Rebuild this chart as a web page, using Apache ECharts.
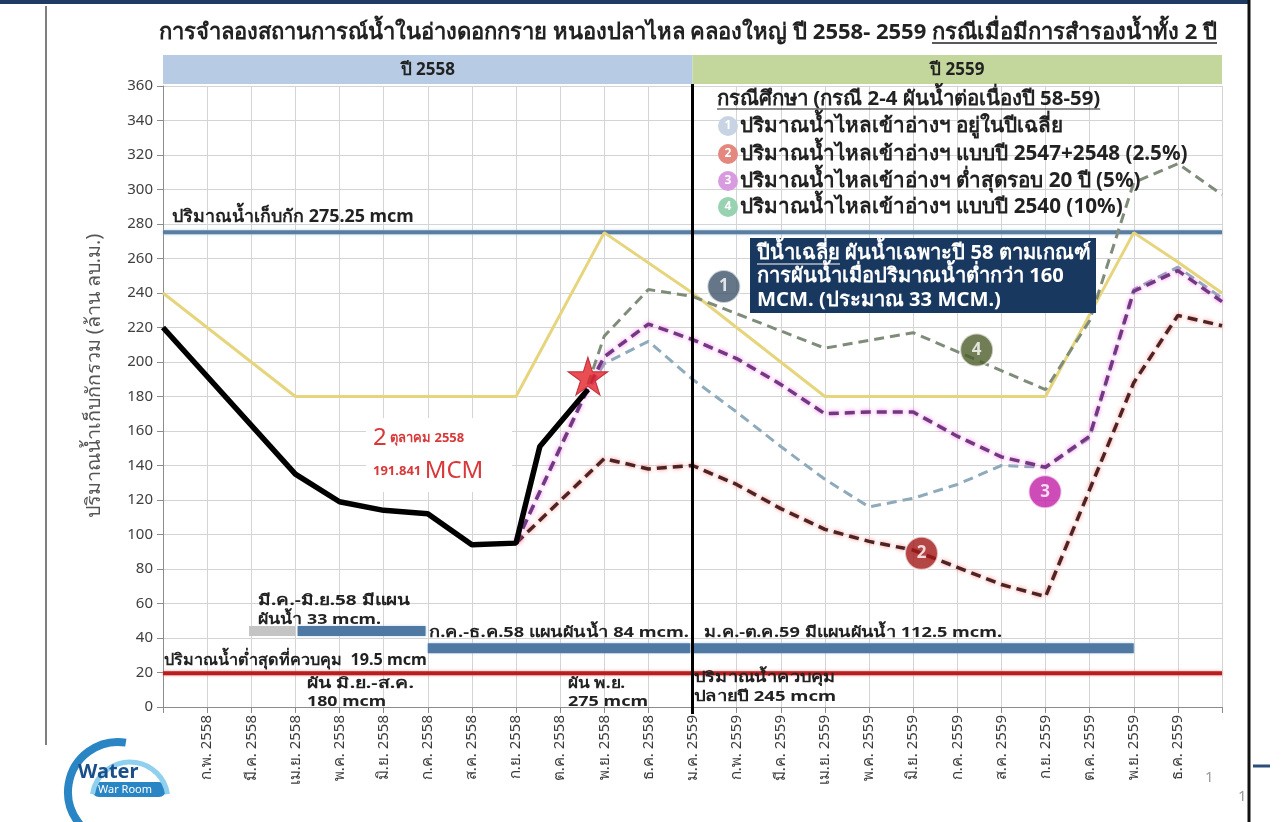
<!DOCTYPE html>
<html><head><meta charset="utf-8">
<script src="https://cdn.jsdelivr.net/npm/echarts@6/dist/echarts.min.js"></script>
<style>html,body{margin:0;padding:0;background:#fff}#c{width:1285px;height:822px}</style>
</head><body><div id="c"></div>
<script>
// ---------- DATA ----------
const monthLabels = ['ม.ค. 2558','ก.พ. 2558','มี.ค. 2558','เม.ย. 2558','พ.ค. 2558','มิ.ย. 2558','ก.ค. 2558','ส.ค. 2558','ก.ย. 2558','ต.ค. 2558','พ.ย. 2558','ธ.ค. 2558','ม.ค. 2559','ก.พ. 2559','มี.ค. 2559','เม.ย. 2559','พ.ค. 2559','มิ.ย. 2559','ก.ค. 2559','ส.ค. 2559','ก.ย. 2559','ต.ค. 2559','พ.ย. 2559','ธ.ค. 2559','ม.ค. 2560'];
const actualX = [0, 3, 4, 5, 6, 7, 8, 8.54, 9.63];
const actualY = [220, 135, 119, 114, 112, 94, 95, 151, 184];
const ruleX = [0, 3, 8, 10, 12, 15, 20, 22, 23, 24];
const ruleY = [240, 180, 180, 275, 240, 180, 180, 275, 258, 240];
const case1X = [8, 9.63, 10, 11, 12, 13, 14, 15, 16, 17, 18, 19, 20, 21, 22, 23, 24];
const case1Y = [95, 184, 199, 212, 190, 171, 151, 132, 116, 121, 129, 140, 139, 156, 242, 255, 237];
const case2X = [8, 10, 11, 12, 13, 14, 15, 16, 17, 18, 19, 20, 22, 23, 24];
const case2Y = [95, 144, 138, 140, 129, 115, 103, 96, 91, 81, 71, 64, 188, 227, 221];
const case3X = [8, 9.63, 10, 11, 12, 13, 14, 15, 16, 17, 18, 19, 20, 21, 22, 23, 24];
const case3Y = [95, 185, 203, 222, 213, 202, 187, 170, 171, 171, 157, 145, 139, 157, 241, 253, 235];
const case4X = [9.63, 10, 11, 12, 15, 17, 20, 21, 22, 23, 24];
const case4Y = [187, 215, 242, 238, 208, 217, 184, 224, 304, 315, 297];
const storageLevel = 275.25;
const minLevel = 19.5;
const planStart = [1.95, 3.05, 6.0, 12.0];
const planEnd = [3.0, 5.95, 11.95, 22.0];
const planLevel = [44, 44, 34, 34];
const starPoint = [9.63, 191.841];
const caseMarkX = [12.71, 17.19, 19.99, 18.44];
const caseMarkY = [243.7, 89.1, 124.8, 207];

// ---------- STYLE ----------
const FONT = '"Noto Sans", "Liberation Sans", "DejaVu Sans", sans-serif';
const caseColors = ['#8eaabb', '#4d2424', '#6f3a80', '#7f8c7a'];
const caseGlow = ['rgba(0,0,0,0)', 'rgba(255,110,110,0.8)', 'rgba(255,90,230,0.8)', 'rgba(0,0,0,0)'];
const markColors = ['#3e546a', '#a31818', '#c21fa6', '#4d5e2a'];
const legendColors = ['#c8d3e3', '#e4877e', '#d99be0', '#97d3b0'];

const pairs = (xs, ys) => xs.map((x, i) => [x, ys[i]]);
const mctx = document.createElement('canvas').getContext('2d');
function textW(t, size, weight){ mctx.font = (weight||'normal') + ' ' + size + 'px ' + FONT; return mctx.measureText(t).width; }
function fit(t, target, weight){ return Math.min(22, 16 * target / textW(t, 16, weight)); }

const chart = echarts.init(document.getElementById('c'));
const series = [];
planStart.forEach((s, i) => {
  series.push({type:'line', data:[[s, planLevel[i]], [planEnd[i], planLevel[i]]], symbol:'none', silent:true, z:2,
    lineStyle:{color: i === 0 ? '#c4c4c4' : '#4f78a3', width:10, cap:'butt', shadowColor: i===0?'rgba(0,0,0,0)':'rgba(150,200,240,0.9)', shadowBlur:3}});
});
series.push({type:'line', data:[[0, storageLevel],[24, storageLevel]], symbol:'none', silent:true, z:3,
  lineStyle:{color:'#5a7ea0', width:4, shadowColor:'rgba(170,200,230,0.9)', shadowBlur:3}});
series.push({type:'line', data:[[0, minLevel],[24, minLevel]], symbol:'none', silent:true, z:3,
  lineStyle:{color:'#b51f22', width:4, shadowColor:'rgba(255,130,130,0.9)', shadowBlur:3}});
series.push({type:'line', data:pairs(ruleX, ruleY), symbol:'none', silent:true, z:4,
  lineStyle:{color:'#e6d57c', width:3}});
[[case1X, case1Y], [case2X, case2Y], [case3X, case3Y], [case4X, case4Y]].forEach((c, i) => {
  series.push({type:'line', data:pairs(c[0], c[1]), symbol:'none', silent:true, z:5,
    lineStyle:{color:caseColors[i], width: (i===1||i===2) ? 3.5 : 3, type:[10,6], shadowColor:caseGlow[i], shadowBlur:4}});
});
series.push({type:'line', data:pairs(actualX, actualY), symbol:'none', silent:true, z:6,
  lineStyle:{color:'#000', width:5.5}});
series.push({type:'scatter', data:[starPoint], z:8, silent:true,
  symbol:'path://M50,0 L61,35 L98,35 L68,57 L79,91 L50,70 L21,91 L32,57 L2,35 L39,35 Z', symbolSize:[40,38],
  itemStyle:{color:'#e3222b', borderColor:'#b31820', borderWidth:1}});
series.push({type:'scatter', z:9, silent:true, symbol:'circle', symbolSize:33,
  data: caseMarkX.map((x, i) => ({value:[x, caseMarkY[i]], itemStyle:{color:markColors[i], borderColor:'rgba(255,255,255,0.8)', borderWidth:2},
    label:{show:true, position:'inside', formatter:String(i+1), color:'#fff', fontSize:17, fontWeight:'bold', fontFamily:FONT}}))});

chart.setOption({
  animation:false, backgroundColor:'#fff',
  grid:{left:163, right:63, top:86, bottom:115, containLabel:false},
  xAxis:{type:'value', min:0, max:24, interval:1,
    axisLine:{lineStyle:{color:'#8c8c8c'}},
    axisTick:{show:true, length:6, lineStyle:{color:'#8c8c8c'}},
    splitLine:{show:true, lineStyle:{color:'#d4d4d4'}},
    axisLabel:{rotate:90, fontSize:15, color:'#3a3a3a', fontFamily:FONT, margin:8, showMinLabel:true, showMaxLabel:true,
      formatter:v => (v >= 1 && v <= 23) ? monthLabels[Math.round(v)] : ''}},
  yAxis:{type:'value', min:0, max:360, interval:20,
    axisLine:{show:true, lineStyle:{color:'#8c8c8c'}},
    axisTick:{show:true, length:6, lineStyle:{color:'#8c8c8c'}},
    splitLine:{lineStyle:{color:'#d4d4d4'}},
    axisLabel:{fontSize:15, color:'#404040', fontFamily:FONT, margin:10}},
  series
});

const px = (x, y) => chart.convertToPixel({gridIndex:0}, [x, y]);
const g = [];
function txt(t, x, y, size, opts){
  opts = opts || {};
  const sx = opts.w ? opts.w / textW(t, size, opts.weight) : 1;
  g.push({type:'text', x:x, y:y, z:100, rotation:opts.rot||0, scaleX:sx,
    style:{text:t, fontSize:size, fontWeight:opts.weight||'normal', fontFamily:FONT, fill:opts.fill||'#222',
      align:opts.align||'left', verticalAlign:'middle', rich:opts.rich}});
}
function line(x1, y1, x2, y2, color, w){
  g.push({type:'line', z:100, shape:{x1, y1, x2, y2}, style:{stroke:color, lineWidth:w}});
}
// frame
g.push({type:'rect', z:100, shape:{x:0, y:0, width:1250, height:4}, style:{fill:'#1f3b63'}});
line(1249, 0, 1249, 822, '#111', 3);
line(1253, 766, 1270, 766, '#2a4f7a', 3);
line(46, 6, 46, 745, '#555', 1.5);
txt('1', 1205, 778, 15, {fill:'#999'});
txt('1', 1238, 797, 15, {fill:'#999'});

// header bands
const p0 = px(0, 360), p12 = px(12, 360), p24 = px(24, 360);
g.push({type:'rect', z:90, shape:{x:p0[0], y:55, width:p12[0]-p0[0], height:29}, style:{fill:'#b7cbe4'}});
g.push({type:'rect', z:90, shape:{x:p12[0], y:55, width:p24[0]-p12[0], height:29}, style:{fill:'#c3d69b'}});
txt('ปี 2558', (p0[0]+p12[0])/2, 70, 17, {weight:'bold', align:'center'});
txt('ปี 2559', (p12[0]+p24[0])/2, 70, 17, {weight:'bold', align:'center'});
line(p12[0], 84, p12[0], 714, '#000', 3);

// title
const t1 = 'การจำลองสถานการณ์น้ำในอ่างดอกกราย หนองปลาไหล คลองใหญ่ ปี 2558- 2559 ';
const t2 = 'กรณีเมื่อมีการสำรองน้ำทั้ง 2 ปี';
const ts = fit(t1 + t2, 1080, 'bold');
const w1 = textW(t1, ts, 'bold'), w2 = textW(t2, ts, 'bold');
const tx = 688 - (w1 + w2) / 2;
txt(t1, tx, 33, ts, {weight:'bold'});
txt(t2, tx + w1, 33, ts, {weight:'bold'});
line(tx + w1, 43, tx + w1 + w2, 43, '#222', 1.5);

// storage / min labels
const sl = 'ปริมาณน้ำเก็บกัก 275.25 mcm';
txt(sl, 172, 217, fit(sl, 243, 'bold'), {weight:'bold'});
const ml = 'ปริมาณน้ำต่ำสุดที่ควบคุม  19.5 mcm';
txt(ml, 164, 660, fit(ml, 263, 'bold'), {weight:'bold'});

// legend
const lh = 'กรณีศึกษา (กรณี 2-4 ผันน้ำต่อเนื่องปี 58-59)';
const lhs = fit(lh, 389, 'bold');
txt(lh, 717, 99, lhs, {weight:'bold'});
line(717, 109, 717 + textW(lh, lhs, 'bold'), 109, '#222', 1.2);
const legendText = ['ปริมาณน้ำไหลเข้าอ่างฯ อยู่ในปีเฉลี่ย', 'ปริมาณน้ำไหลเข้าอ่างฯ แบบปี 2547+2548 (2.5%)', 'ปริมาณน้ำไหลเข้าอ่างฯ ต่ำสุดรอบ 20 ปี (5%)', 'ปริมาณน้ำไหลเข้าอ่างฯ แบบปี 2540 (10%)'];
const legendY = [126, 154, 181, 207];
const lfs = fit(legendText[1], 448, 'bold');
legendText.forEach((t, i) => {
  g.push({type:'circle', z:100, shape:{cx:728, cy:legendY[i], r:10}, style:{fill:legendColors[i]}});
  txt(String(i+1), 728, legendY[i], 12, {weight:'bold', fill:'#fff', align:'center'});
  txt(t, 740, legendY[i], lfs, {weight:'bold'});
});

// navy box
g.push({type:'rect', z:95, shape:{x:750, y:238, width:346, height:75}, style:{fill:'#19385f'}});
const nb = ['ปีน้ำเฉลี่ย ผันน้ำเฉพาะปี 58 ตามเกณฑ์', 'การผันน้ำเมื่อปริมาณน้ำต่ำกว่า 160', 'MCM. (ประมาณ 33 MCM.)'];
const nbs = fit(nb[0], 333, 'bold');
nb.forEach((t, i) => txt(t, 757, 253 + i * 23.5, nbs, {weight:'bold', fill:'#fff'}));
line(757, 264, 757 + textW('ปีน้ำเฉลี่ย', nbs, 'bold'), 264, '#fff', 1.2);

// date annotation
g.push({type:'rect', z:60, shape:{x:366, y:418, width:146, height:74}, style:{fill:'#fff'}});
txt('{a|2} {b|ตุลาคม 2558}', 373, 438, 13, {rich:{a:{fontSize:24, fill:'#d9383a', fontFamily:FONT}, b:{fontSize:13, fill:'#d9383a', fontWeight:'bold', fontFamily:FONT}}});
txt('{b|191.841 }{a|MCM}', 373, 471, 13, {rich:{a:{fontSize:24, fill:'#d9383a', fontFamily:FONT}, b:{fontSize:13, fill:'#d9383a', fontWeight:'bold', fontFamily:FONT}}});

// plan texts [text, x, y, target width]
const pt = [
  ['มี.ค.-มิ.ย.58 มีแผน', 258, 601, 152],
  ['ผันน้ำ 33 mcm.', 258, 620, 123],
  ['ก.ค.-ธ.ค.58 แผนผันน้ำ 84 mcm.', 429, 633, 260],
  ['ม.ค.-ต.ค.59 มีแผนผันน้ำ 112.5 mcm.', 704, 633, 298],
  ['ผัน มิ.ย.-ส.ค.', 307, 684, 107], ['180 mcm', 307, 702, 79],
  ['ผัน พ.ย.', 568, 684, 57], ['275 mcm', 568, 702, 80],
  ['ปริมาณน้ำควบคุม', 694, 678, 142], ['ปลายปี 245 mcm', 694, 697, 142]
];
pt.forEach(p => txt(p[0], p[1], p[2], 14.5, {weight:'bold', w:p[3]}));

// y axis title
const yt = 'ปริมาณน้ำเก็บกักรวม (ล้าน ลบ.ม.)';
txt(yt, 94, 376, fit(yt, 290, 'normal'), {rot:Math.PI/2, fill:'#555', align:'center'});

// logo
g.push({type:'arc', z:100, shape:{cx:118, cy:792, r:50, startAngle:Math.PI*0.55, endAngle:Math.PI*1.55}, style:{stroke:'#2a85c4', lineWidth:8, fill:null}});
g.push({type:'arc', z:100, shape:{cx:130, cy:800, r:38, startAngle:Math.PI*1.05, endAngle:Math.PI*1.95}, style:{stroke:'#8fd0ee', lineWidth:5, fill:null}});
txt('Water', 78, 772, 20, {weight:'bold', fill:'#1b4f8a'});
g.push({type:'rect', z:99, shape:{x:92, y:782, width:74, height:15, r:7}, style:{fill:'#2a85c4'}});
txt('War Room', 98, 790, 11, {fill:'#fff'});

chart.setOption({graphic:{elements:g}});
</script></body></html>
